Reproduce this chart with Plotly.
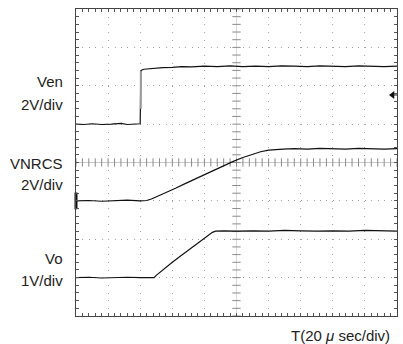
import numpy as np
import plotly.graph_objects as go

# Screen coordinates: 10 horizontal divisions x 8 vertical divisions
X_DIVS = 10
Y_DIVS = 8

# Ven channel (2 V/div) — enable step
ven_t = [0, 0.25, 0.5, 0.8, 1.1, 1.4, 1.6, 1.85, 2.0, 2.02, 2.05, 2.12, 2.25, 2.45, 2.7, 3.0,
         3.3, 3.6, 4.0, 4.4, 4.8, 5.2, 5.6, 6.0, 6.4, 6.8, 7.2, 7.6, 8.0, 8.4, 8.8, 9.2, 9.6, 10.0]
ven_v = [5.0, 4.99, 5.01, 4.99, 5.0, 5.02, 4.99, 5.0, 5.01, 6.38, 6.41, 6.43, 6.44, 6.46, 6.47, 6.48,
         6.50, 6.49, 6.51, 6.50, 6.52, 6.50, 6.51, 6.50, 6.52, 6.51, 6.50, 6.52, 6.51, 6.50, 6.52, 6.51, 6.50, 6.51]
ven_edge_t = 2.02
ven_edge_v = [5.4, 6.38]

# VNRCS channel (2 V/div) — soft-start ramp
nr_t = [0, 0.4, 0.8, 1.2, 1.6, 2.0, 2.2, 2.35, 2.55, 2.8, 3.1, 3.4, 3.7, 4.0, 4.3, 4.6, 4.9, 5.2,
        5.5, 5.75, 6.0, 6.2, 6.45, 6.8, 7.2, 7.6, 8.0, 8.4, 8.8, 9.2, 9.6, 10]
nr_v = [3.0, 3.01, 2.99, 3.0, 3.02, 3.0, 3.01, 3.05, 3.12, 3.21, 3.33, 3.45, 3.57, 3.68, 3.80, 3.92, 4.03, 4.13,
        4.22, 4.28, 4.32, 4.34, 4.35, 4.36, 4.35, 4.37, 4.36, 4.35, 4.37, 4.36, 4.35, 4.36]

# Vo channel (1 V/div) — output ramp
vo_t = [0, 0.4, 0.8, 1.2, 1.6, 2.0, 2.3, 2.43, 2.5, 2.6, 2.8, 3.0, 3.3, 3.6, 3.9, 4.1, 4.25, 4.35,
        4.6, 5.0, 5.5, 6.0, 6.5, 7.0, 7.5, 8.0, 8.5, 9.0, 9.5, 10]
vo_v = [1.0, 1.01, 0.99, 1.0, 1.01, 1.0, 0.99, 1.0, 1.06, 1.13, 1.27, 1.40, 1.59, 1.78, 1.97, 2.09, 2.18, 2.21,
        2.22, 2.21, 2.22, 2.21, 2.23, 2.22, 2.21, 2.22, 2.21, 2.23, 2.22, 2.21]

# Channel ground reference markers and trigger level
ground_levels = [5.0, 3.0, 1.0]
trigger_level = 5.76

# Channel labels: (text, vertical position in divisions)
labels = [("Ven", 6.1), ("2V/div", 5.5), ("VNRCS", 3.98), ("2V/div", 3.42), ("Vo", 1.5), ("1V/div", 0.93)]
time_label = "T(20 <i>μ</i> sec/div)"

FONT = "Liberation Sans, Arial, sans-serif"

fig = go.Figure()

# Centre graticule lines with 0.2-div minor ticks
cx, cy = X_DIVS / 2, Y_DIVS / 2
fig.add_trace(go.Scatter(x=[0, X_DIVS], y=[cy, cy], mode="lines",
                         line=dict(color="#c8c8c8", width=1), hoverinfo="skip"))
fig.add_trace(go.Scatter(x=[cx, cx], y=[0, Y_DIVS], mode="lines",
                         line=dict(color="#d8d8d8", width=1), hoverinfo="skip"))
minor_x = np.arange(0, X_DIVS + 0.01, 0.2)
minor_y = np.arange(0, Y_DIVS + 0.01, 0.2)
fig.add_trace(go.Scatter(x=minor_x, y=[cy] * len(minor_x), mode="markers",
                         marker=dict(symbol="line-ns", size=6, line=dict(color="#8a8a8a", width=1)),
                         hoverinfo="skip"))
fig.add_trace(go.Scatter(x=[cx] * len(minor_y), y=minor_y, mode="markers",
                         marker=dict(symbol="line-ew", size=6, line=dict(color="#8a8a8a", width=1)),
                         hoverinfo="skip"))

# Waveforms
for t, v in [(ven_t, ven_v), (nr_t, nr_v), (vo_t, vo_v)]:
    fig.add_trace(go.Scatter(x=t, y=v, mode="lines",
                             line=dict(color="#111111", width=1.2), hoverinfo="skip"))

# Fast enable edge is dimmer on the screen
fig.add_trace(go.Scatter(x=[ven_edge_t, ven_edge_t], y=ven_edge_v, mode="lines",
                         line=dict(color="#9a9a9a", width=2), hoverinfo="skip"))

# Ground markers on the left edge
fig.add_trace(go.Scatter(x=[-0.04, -0.04], y=[ground_levels[0], ground_levels[2]], mode="markers",
                         marker=dict(symbol="line-ew", size=5, line=dict(color="#333", width=1)),
                         cliponaxis=False, hoverinfo="skip"))
fig.add_trace(go.Scatter(x=[0], y=[ground_levels[1]], mode="markers",
                         marker=dict(symbol="line-ns", size=12, line=dict(color="#111", width=3)),
                         cliponaxis=False, hoverinfo="skip"))

# Trigger level marker on the right edge
fig.add_trace(go.Scatter(x=[9.86], y=[trigger_level], mode="markers",
                         marker=dict(symbol="triangle-left", size=7, color="#111"),
                         cliponaxis=False, hoverinfo="skip"))
fig.add_trace(go.Scatter(x=[9.86, X_DIVS], y=[trigger_level, trigger_level], mode="lines",
                         line=dict(color="#111", width=1), hoverinfo="skip"))

for text, yv in labels:
    fig.add_annotation(text=text, xref="paper", x=-0.035, xanchor="right",
                       yref="y", y=yv, yanchor="middle", showarrow=False,
                       font=dict(family=FONT, size=15, color="#222"))

fig.add_annotation(text=time_label, xref="paper", x=0.984, xanchor="right",
                   yref="paper", y=-0.062, yanchor="middle", showarrow=False,
                   font=dict(family=FONT, size=15, color="#222"))

axis_common = dict(showline=True, linecolor="#444", linewidth=1, mirror="allticks",
                   ticks="inside", ticklen=3, tickcolor="#555", showticklabels=False,
                   zeroline=False, showgrid=True, gridcolor="#a0a0a0", gridwidth=1,
                   fixedrange=True)

fig.update_xaxes(range=[0, X_DIVS], dtick=1, tick0=0, griddash="1px,6.67px",
                 minor=dict(dtick=0.2, ticks="inside", ticklen=3, tickcolor="#555", showgrid=False),
                 **axis_common)
fig.update_yaxes(range=[0, Y_DIVS], dtick=1, tick0=0, griddash="1px,5.42px",
                 minor=dict(dtick=0.2, ticks="inside", ticklen=3, tickcolor="#555", showgrid=False),
                 **axis_common)

fig.update_layout(width=403, height=344, margin=dict(l=76, r=6, t=9, b=28),
                  paper_bgcolor="white", plot_bgcolor="white", showlegend=False,
                  font=dict(family=FONT))

fig.write_html("out.html")
